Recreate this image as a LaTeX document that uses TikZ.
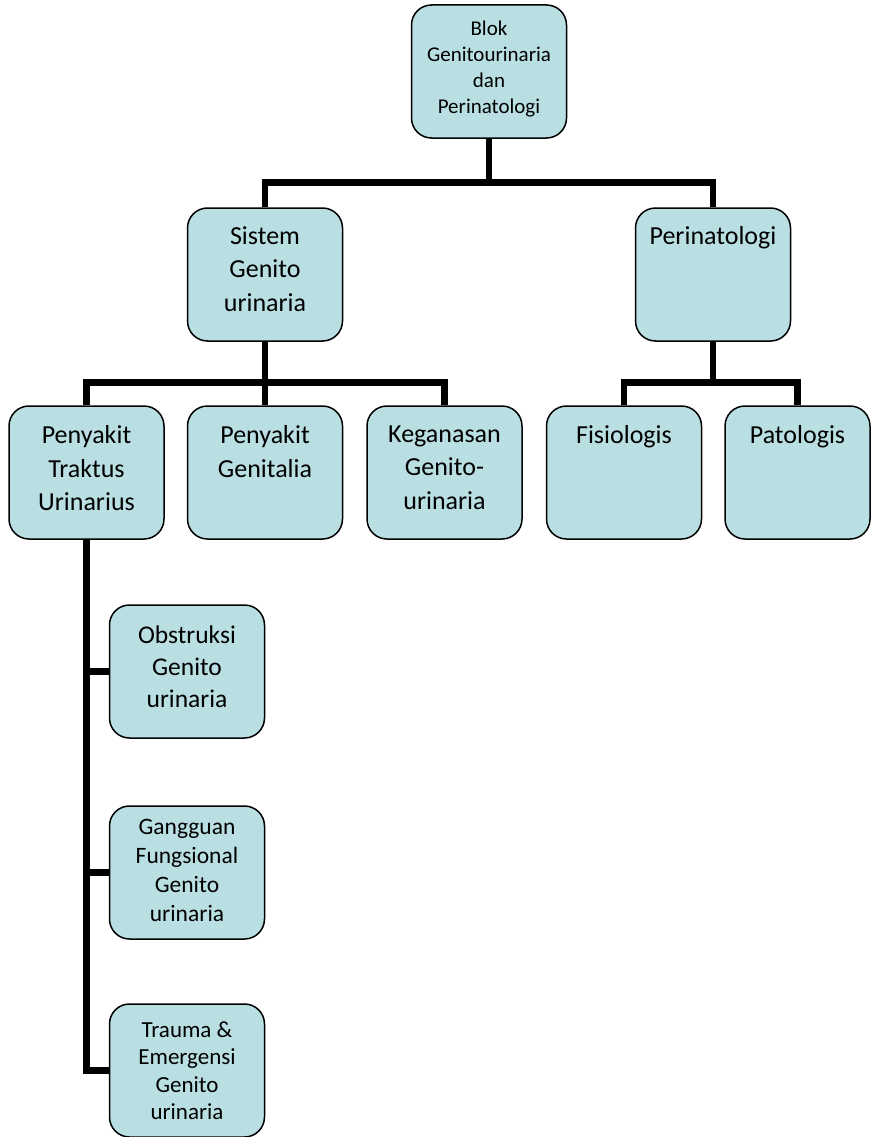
\documentclass[tikz,border=0pt]{standalone}
\usepackage{fontspec}
\setmainfont{Carlito}
\definecolor{boxfill}{RGB}{185,223,227}
\tikzset{
  box/.style={draw=black, line width=1.5pt, fill=boxfill, rounded corners=20pt,
    minimum width=155pt, minimum height=133pt, inner sep=0pt},
  conn/.style={line width=6.5pt, line join=miter},
  txt/.style={anchor=north, align=center, inner sep=0pt, yshift=-#1pt},
  big/.style={font=\fontsize{26}{33.5}\selectfont},
}
\begin{document}
\begin{tikzpicture}[x=1pt,y=-1pt]
        \useasboundingbox (0,0) rectangle (872,1137);
        \clip (0,0) rectangle (872,1137);
        %% Level 1
        \node[box, label={[txt=16, font=\fontsize{21}{26}\selectfont]north:{Blok\\Genitourinaria\\dan\\Perinatologi}}] (blok) at (489,71.5) {};
        %% Level 2
        \node[box, label={[txt=19, big]north:{Sistem\\Genito\\urinaria}}] (sgu)  at (265,274.5) {};
        \node[box, label={[txt=19, big]north:{Perinatologi}}]           (peri) at (713,274.5) {};
        %% Level 3
        \node[box, label={[txt=20, big]north:{Penyakit\\Traktus\\Urinarius}}]  (ptu) at (86.5,472.5) {};
        \node[box, label={[txt=20, big]north:{Penyakit\\Genitalia}}]           (pg)  at (265,472.5) {};
        \node[box, label={[txt=20, big]north:{Keganasan\\Genito-\\urinaria}}]  (kgu) at (444.5,472.5) {};
        \node[box, label={[txt=20, big]north:{Fisiologis}}]                    (fis) at (624,472.5) {};
        \node[box, minimum width=145pt, label={[txt=20, big]north:{Patologis}}] (pat) at (797.5,472.5) {};
        %% Level 4
        \node[box, label={[txt=21, font=\fontsize{25.5}{32}\selectfont]north:{Obstruksi\\Genito\\urinaria}}] (obs) at (187,671.5) {};
        \node[box, label={[txt=14, font=\fontsize{23.5}{29}\selectfont]north:{Gangguan\\Fungsional\\Genito\\urinaria}}] (gfu) at (187,872.5) {};
        \node[box, label={[txt=18, font=\fontsize{23}{27.5}\selectfont]north:{Trauma \&\\Emergensi\\Genito\\urinaria}}] (teg) at (187,1070.5) {};
        %% Connectors
        \coordinate (j1) at (489,182.5);
        \coordinate (j2) at (265,382.5);
        \coordinate (j3) at (713,382.5);
        \draw[conn] (blok.south) -- (j1);
        \draw[conn] (sgu.north) |- (j1) -| (peri.north);
        \draw[conn] (sgu.south) -- (j2);
        \draw[conn] (ptu.north) |- (j2) -| (kgu.north);
        \draw[conn] (j2) -- (pg.north);
        \draw[conn] (peri.south) -- (j3);
        \draw[conn] (fis.north) |- (j3) -| (pat.north);
        \draw[conn] (ptu.south) |- (obs.west);
        \draw[conn] (ptu.south) |- (gfu.west);
        \draw[conn] (ptu.south) |- (teg.west);
\end{tikzpicture}
\end{document}
